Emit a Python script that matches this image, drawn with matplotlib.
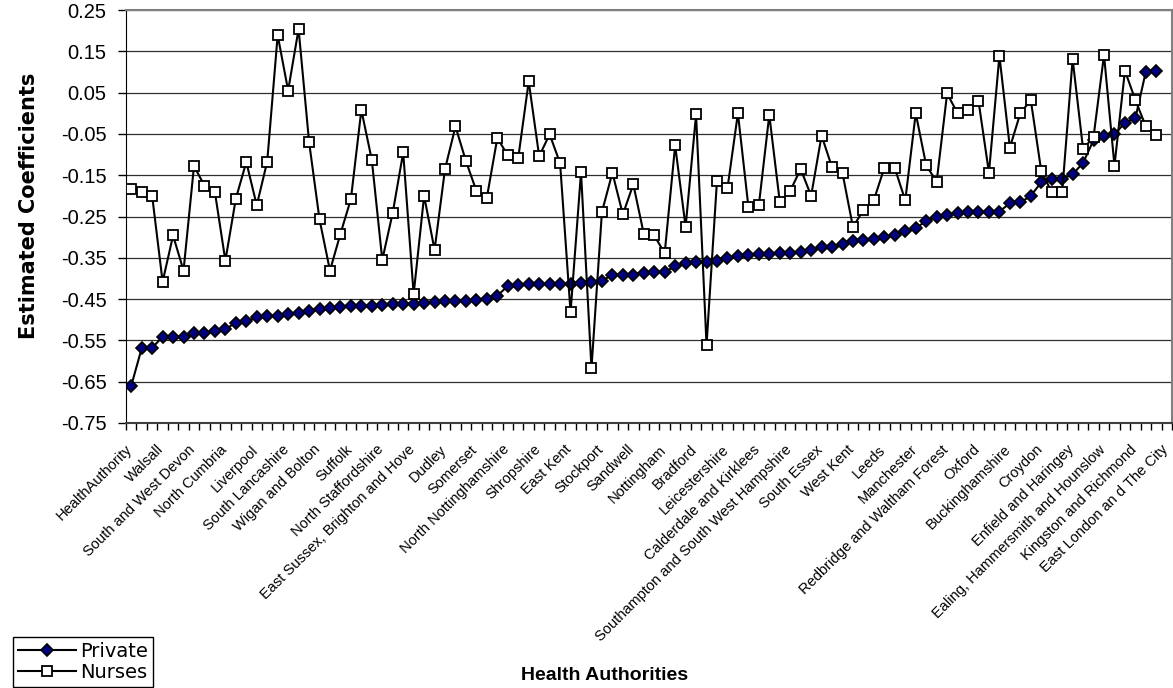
import numpy as np
import matplotlib
matplotlib.use("Agg")
import matplotlib.pyplot as plt
from matplotlib.ticker import FixedLocator
from matplotlib.transforms import ScaledTranslation

plt.rcParams['font.family'] = ['Liberation Sans', 'DejaVu Sans']

# category labels shown on the axis (every third health authority)
shown_labels = ["HealthAuthority", "Walsall", "South and West Devon", "North Cumbria",
                "Liverpool", "South Lancashire", "Wigan and Bolton", "Suffolk",
                "North Staffordshire", "East Sussex, Brighton and Hove", "Dudley",
                "Somerset", "North Nottinghamshire", "Shropshire", "East Kent",
                "Stockport", "Sandwell", "Nottingham", "Bradford", "Leicestershire",
                "Calderdale and Kirklees", "Southampton and South West Hampshire",
                "South Essex", "West Kent", "Leeds", "Manchester",
                "Redbridge and Waltham Forest", "Oxford", "Buckinghamshire", "Croydon",
                "Enfield and Haringey", "Ealing, Hammersmith and Hounslow",
                "Kingston and Richmond", "East London an d The City"]
n_categories = 100
label_step = 3

# estimated coefficients, one per category (last category has no value)
private = [-0.660, -0.569, -0.568, -0.541, -0.542, -0.541, -0.533, -0.531, -0.527, -0.523,
           -0.507, -0.504, -0.493, -0.491, -0.490, -0.487, -0.483, -0.478, -0.474, -0.471,
           -0.469, -0.467, -0.467, -0.467, -0.464, -0.462, -0.462, -0.462, -0.460, -0.456,
           -0.455, -0.455, -0.455, -0.452, -0.450, -0.442, -0.418, -0.417, -0.413, -0.413,
           -0.413, -0.413, -0.413, -0.412, -0.408, -0.405, -0.392, -0.392, -0.392, -0.386,
           -0.384, -0.384, -0.371, -0.363, -0.359, -0.360, -0.357, -0.351, -0.346, -0.343,
           -0.342, -0.341, -0.339, -0.338, -0.337, -0.331, -0.325, -0.323, -0.317, -0.309,
           -0.307, -0.304, -0.300, -0.295, -0.285, -0.279, -0.260, -0.252, -0.246, -0.242,
           -0.240, -0.238, -0.238, -0.238, -0.218, -0.216, -0.200, -0.167, -0.158, -0.159,
           -0.148, -0.120, -0.065, -0.055, -0.051, -0.023, -0.012, 0.101, 0.103]

nurses = [-0.184, -0.191, -0.200, -0.408, -0.296, -0.381, -0.128, -0.175, -0.191, -0.357,
          -0.207, -0.118, -0.223, -0.117, 0.189, 0.055, 0.204, -0.069, -0.257, -0.381,
          -0.292, -0.208, 0.008, -0.113, -0.355, -0.241, -0.095, -0.438, -0.200, -0.331,
          -0.135, -0.032, -0.116, -0.188, -0.204, -0.060, -0.102, -0.108, 0.077, -0.104,
          -0.051, -0.121, -0.482, -0.143, -0.618, -0.239, -0.144, -0.245, -0.172, -0.292,
          -0.296, -0.339, -0.078, -0.275, -0.003, -0.561, -0.163, -0.182, 0.000, -0.226,
          -0.223, -0.004, -0.214, -0.188, -0.135, -0.200, -0.054, -0.131, -0.145, -0.276,
          -0.234, -0.210, -0.132, -0.133, -0.211, 0.000, -0.126, -0.166, 0.048, 0.000,
          0.008, 0.030, -0.144, 0.139, -0.083, 0.000, 0.032, -0.140, -0.191, -0.191,
          0.131, -0.087, -0.057, 0.141, -0.127, 0.103, 0.032, -0.032, -0.053]

y_ticks = [0.25, 0.15, 0.05, -0.05, -0.15, -0.25, -0.35, -0.45, -0.55, -0.65, -0.75]

W, H = 1173, 688
fig = plt.figure(figsize=(W / 100, H / 100), dpi=100)
ax = fig.add_axes([126 / W, 1 - 423 / H, (1172 - 126) / W, (423 - 10) / H])

x = np.arange(len(private))
ax.plot(x, private, color='black', lw=1.5, marker='D', ms=6.5,
        mfc='#000080', mec='black', mew=1.2, label='Private', zorder=3)
ax.plot(np.arange(len(nurses)), nurses, color='black', lw=1.5, marker='s', ms=6.5,
        mfc='white', mec='black', mew=1.3, label='Nurses', zorder=4)

ax.set_xlim(-0.5, n_categories - 0.5)
ax.set_ylim(-0.75, 0.25)

# y axis
ax.set_yticks(y_ticks)
ax.set_yticklabels([f"{v:.2f}" for v in y_ticks], fontsize=14.5)
ax.tick_params(axis='y', direction='out', length=6, width=1, pad=8)
ax.yaxis.grid(True, color='#303030', lw=0.9)
ax.set_axisbelow(True)

# x axis: labels every third category, ticks between categories
ax.set_xticks(np.arange(0, n_categories, label_step))
ax.set_xticklabels(shown_labels, rotation=45, ha='right', va='top',
                   rotation_mode='anchor', fontsize=10.5)
ax.tick_params(axis='x', which='major', length=0, pad=14)
shift = ScaledTranslation(-6 / 100, 0, fig.dpi_scale_trans)
for lab in ax.get_xticklabels():
    lab.set_transform(lab.get_transform() + shift)
ax.xaxis.set_minor_locator(FixedLocator(np.arange(-0.5, n_categories, 1)))
ax.tick_params(axis='x', which='minor', direction='out', length=5, width=1, color='black')

for side in ['top', 'right']:
    ax.spines[side].set_color('#808080')
    ax.spines[side].set_linewidth(1.5)
ax.spines['left'].set_color('black')
ax.spines['bottom'].set_color('#404040')
ax.spines['bottom'].set_linewidth(1.5)

fig.text(29 / W, 1 - 206 / H, "Estimated Coefficients", rotation=90, ha='center',
         va='center', fontsize=15, fontweight='bold', family='DejaVu Sans')
fig.text(605 / W, 1 - 675 / H, "Health Authorities", ha='center', va='center',
         fontsize=14, fontweight='bold')

leg = fig.legend(loc='lower left', bbox_to_anchor=(13 / W, 1 / H),
                 prop={'family': 'DejaVu Sans', 'size': 14},
                 frameon=True, fancybox=False, edgecolor='black', framealpha=1,
                 handlelength=3.0, handletextpad=0.2, labelspacing=0.1,
                 borderpad=0.25, borderaxespad=0)
leg.get_frame().set_linewidth(1.0)

fig.savefig("out.png", dpi=100)
